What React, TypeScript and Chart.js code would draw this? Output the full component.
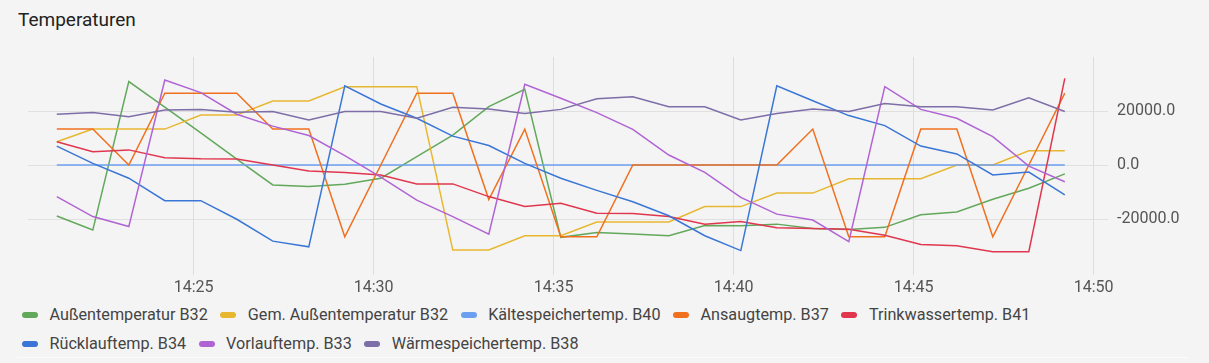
import React, { useEffect, useRef } from 'react';
import { Chart, registerables } from 'chart.js';

Chart.register(...registerables);

const TITLE = 'Temperaturen';

const times = [
  '14:21:12', '14:22:12', '14:23:12', '14:24:12', '14:25:12', '14:26:12', '14:27:12', '14:28:12',
  '14:29:12', '14:30:12', '14:31:12', '14:32:12', '14:33:12', '14:34:12', '14:35:12', '14:36:12',
  '14:37:12', '14:38:12', '14:39:12', '14:40:12', '14:41:12', '14:42:12', '14:43:12', '14:44:12',
  '14:45:12', '14:46:12', '14:47:12', '14:48:12', '14:49:12',
];

const seriesNames = [
  'Außentemperatur B32',
  'Gem. Außentemperatur B32',
  'Kältespeichertemp. B40',
  'Ansaugtemp. B37',
  'Trinkwassertemp. B41',
  'Rücklauftemp. B34',
  'Vorlauftemp. B33',
  'Wärmespeichertemp. B38',
];

const seriesColors = ['#62a85b', '#e8b730', '#6c9ff0', '#f0701e', '#e0364e', '#3a76d6', '#b064d4', '#7d6ea8'];

const aussen = [-18900, -24100, 30900, 21400, 11900, 2200, -7400, -8000, -7100, -4900, 3100, 11100, 21600, 28000, -26800, -25000, -25600, -26200, -22400, -22500, -21900, -23500, -23900, -23100, -18400, -17400, -12700, -8600, -3300];
const gemAussen = [8600, 13300, 13300, 13300, 18500, 18500, 23700, 23700, 29000, 29000, 29000, -31500, -31500, -26200, -26200, -21100, -21100, -21100, -15400, -15400, -10400, -10400, -5100, -5100, -5100, 0, 0, 5300, 5300];
const kaeltespeicher = [0, 0, 0, 0, 0, 0, 0, 0, 0, 0, 0, 0, 0, 0, 0, 0, 0, 0, 0, 0, 0, 0, 0, 0, 0, 0, 0, 0, 0];
const ansaug = [13300, 13300, 0, 26600, 26600, 26600, 13300, 13300, -26600, 0, 26600, 26600, -12800, 13300, -26600, -26600, 0, 0, 0, 0, 0, 13300, -26600, -26600, 13300, 13300, -26600, 0, 26600];
const trinkwasser = [8600, 4900, 5600, 2700, 2300, 2200, 0, -2200, -2800, -3700, -7000, -7000, -11700, -15400, -14200, -17900, -18000, -19100, -21900, -20900, -23200, -23500, -23800, -26000, -29400, -29900, -32100, -32100, 32100];
const ruecklauf = [7000, 600, -4900, -13200, -13200, -20100, -28200, -30300, 29300, 22600, 17300, 10700, 7200, 600, -4900, -9400, -13600, -18800, -26200, -31700, 29300, 23800, 18300, 14600, 7000, 4100, -3700, -2600, -11100];
const vorlauf = [-11700, -19100, -22800, 31500, 26800, 18800, 14400, 10900, 3500, -4500, -13000, -19100, -25600, 29900, 24700, 19400, 13200, 3700, -2700, -12000, -18200, -20400, -28400, 29000, 20600, 17300, 10500, -400, -6200];
const waermespeicher = [18800, 19400, 17900, 20400, 20600, 19500, 19800, 16700, 19800, 19800, 17300, 21400, 20700, 19100, 20600, 24500, 25300, 21600, 21600, 16700, 19100, 20700, 19800, 22800, 21600, 21600, 20400, 24900, 19800];

const seriesValues = [aussen, gemAussen, kaeltespeicher, ansaug, trinkwasser, ruecklauf, vorlauf, waermespeicher];

const xTickLabels = ['14:25', '14:30', '14:35', '14:40', '14:45', '14:50'];
const yTickValues = [-20000, 0, 20000];
const xRange = ['14:20:24', '14:50:24'];
const yRange = [-40000, 40000];

const BG = '#f4f4f4';
const FONT = 'Roboto, "Noto Sans", sans-serif';

const toMin = (t: string) => {
  const p = t.split(':').map(Number);
  return p[0] * 60 + p[1] + (p[2] || 0) / 60;
};
const fmtMin = (v: number) => {
  const h = Math.floor(v / 60);
  const m = Math.round(v - h * 60);
  return `${h}:${String(m).padStart(2, '0')}`;
};

export default function App() {
  const ref = useRef<HTMLCanvasElement>(null);

  useEffect(() => {
    document.body.style.margin = '0';
    document.body.style.background = BG;
    const xs = times.map(toMin);
    const chart = new Chart(ref.current as HTMLCanvasElement, {
      type: 'line',
      data: {
        datasets: seriesValues.map((vals, i) => ({
          label: seriesNames[i],
          data: vals.map((v, j) => ({ x: xs[j], y: v })),
          borderColor: seriesColors[i],
          backgroundColor: seriesColors[i],
          borderWidth: 1.5,
          pointRadius: 0,
          pointHoverRadius: 0,
          tension: 0,
          fill: false,
          order: -i,
        })),
      },
      options: {
        animation: false,
        responsive: false,
        maintainAspectRatio: false,
        devicePixelRatio: 1,
        layout: { padding: { left: 28, top: 57, right: 0, bottom: 0 } },
        plugins: { legend: { display: false }, tooltip: { enabled: false }, title: { display: false } },
        scales: {
          x: {
            type: 'linear',
            min: toMin(xRange[0]),
            max: toMin(xRange[1]),
            afterBuildTicks: (s: any) => {
              s.ticks = xTickLabels.map((t) => ({ value: toMin(t) }));
            },
            afterFit: (s: any) => {
              s.height = 27;
            },
            ticks: {
              callback: (v: any) => fmtMin(Number(v)),
              color: '#555',
              font: { family: FONT, size: 16 },
              padding: 3,
              maxRotation: 0,
              autoSkip: false,
            },
            grid: { color: '#dddddd', lineWidth: 1, drawTicks: true, tickLength: 2 },
            border: { display: false },
          },
          y: {
            position: 'right',
            min: yRange[0],
            max: yRange[1],
            afterBuildTicks: (s: any) => {
              s.ticks = yTickValues.map((v) => ({ value: v }));
            },
            afterFit: (s: any) => {
              s.width = 101;
            },
            ticks: {
              callback: (v: any) => Number(v).toFixed(1),
              color: '#555',
              font: { family: FONT, size: 16 },
              padding: 9,
            },
            grid: { color: '#e0e0e0', lineWidth: 1, drawTicks: false },
            border: { display: false },
          },
        },
      },
    } as any);
    return () => chart.destroy();
  }, []);

  return (
    <div style={{ position: 'relative', width: 1209, height: 363, background: BG, fontFamily: FONT, overflow: 'hidden' }}>
      <div style={{ position: 'absolute', left: 18, top: 10, fontSize: 19, lineHeight: '19px', color: '#222' }}>{TITLE}</div>
      <canvas ref={ref} width={1209} height={300} style={{ position: 'absolute', left: 0, top: 0, width: 1209, height: 300 }} />
      <div
        style={{
          position: 'absolute',
          left: 22,
          top: 300,
          width: 1100,
          display: 'flex',
          flexWrap: 'wrap',
        }}
      >
        {seriesNames.map((n, i) => (
          <div key={n} style={{ display: 'flex', alignItems: 'center', height: 29, marginRight: 12.5 }}>
            <span style={{ display: 'inline-block', width: 16, height: 6, borderRadius: 3, background: seriesColors[i], marginRight: 11.5 }} />
            <span style={{ fontSize: 16.2, color: '#444', whiteSpace: 'nowrap' }}>{n}</span>
          </div>
        ))}
      </div>
      <div style={{ position: 'absolute', left: 17, top: 357, width: 1171, height: 1, background: '#fbfbfb' }} />
    </div>
  );
}
